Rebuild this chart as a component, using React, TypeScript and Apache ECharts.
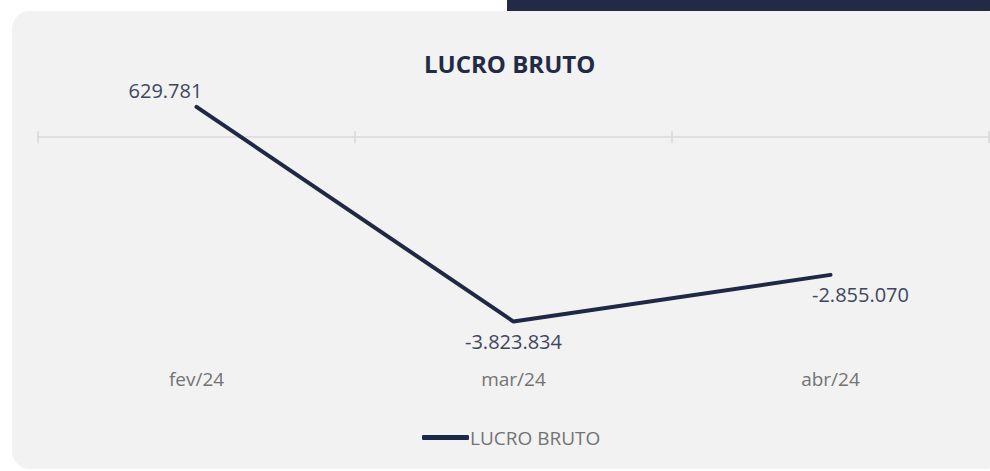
import React, { useEffect, useRef } from "react";
import * as echarts from "echarts";

const categories = ["fev/24", "mar/24", "abr/24"];
const lucroBruto = [629781, -3823834, -2855070];
const seriesName = "LUCRO BRUTO";

const fmt = (v: number) => {
  const s = Math.abs(Math.round(v)).toString().replace(/\B(?=(\d{3})+(?!\d))/g, ".");
  return (v < 0 ? "-" : "") + s;
};

const labelPos = [
  { position: "top", offset: [-31, 0], distance: 6 },
  { position: "bottom", offset: [0, 0], distance: 10 },
  { position: "bottom", offset: [30, 0], distance: 10 },
];

export default function App() {
  const ref = useRef<HTMLDivElement>(null);
  useEffect(() => {
    if (!ref.current) return;
    const chart = echarts.init(ref.current, undefined, { renderer: "svg" });
    const font = "'Open Sans', Lato, sans-serif";
    chart.setOption({
      animation: false,
      textStyle: { fontFamily: font },
      graphic: [
        {
          type: "rect",
          z: -10,
          shape: { x: 12, y: 11, width: 992, height: 458, r: 18 },
          style: { fill: "#f2f2f2" },
        },
        {
          type: "rect",
          z: -9,
          shape: { x: 507, y: 0, width: 483, height: 11 },
          style: { fill: "#222a45" },
        },
      ],
      title: {
        text: "LUCRO BRUTO",
        left: 419,
        top: 46,
        textStyle: { fontFamily: font, fontSize: 24, fontWeight: "bold", color: "#222a45" },
      },
      legend: {
        top: 423,
        left: 417,
        itemWidth: 47,
        itemHeight: 5,
        itemGap: 0,
        data: [{ name: seriesName, icon: "roundRect" }],
        itemStyle: { color: "#1f2845" },
        textStyle: { fontFamily: font, fontSize: 19, color: "#737373", padding: [0, 0, 0, -4] },
      },
      grid: { left: 38, right: 1, top: 89, bottom: 112 },
      xAxis: [
        {
          type: "category",
          data: categories,
          position: "bottom",
          axisLine: { show: false, onZero: false },
          axisTick: { show: false },
          axisLabel: { margin: 10, fontSize: 19, color: "#737373", fontFamily: font },
        },
        {
          type: "category",
          data: categories,
          position: "bottom",
          axisLine: { show: true, onZero: true, onZeroAxisIndex: 0, lineStyle: { color: "#d9d9d9", width: 1.5 } },
          axisTick: { show: true, inside: true, length: 6, lineStyle: { color: "#d9d9d9", width: 1.5 } },
          axisLabel: { show: false },
        },
        {
          type: "category",
          data: categories,
          position: "bottom",
          axisLine: { show: false, onZero: true, onZeroAxisIndex: 1 },
          axisTick: { show: true, inside: false, length: 6, lineStyle: { color: "#d9d9d9", width: 1.5 } },
          axisLabel: { show: false },
        },
      ],
      yAxis: [
        { type: "value", min: -4600000, max: 1000000, show: false, splitLine: { show: false } },
        { type: "value", min: -4600000, max: 1000000, show: false, splitLine: { show: false } },
      ],
      series: [
        {
          name: seriesName,
          type: "line",
          xAxisIndex: 0,
          yAxisIndex: 0,
          symbol: "circle",
          symbolSize: 0,
          showSymbol: true,
          itemStyle: { color: "#1f2845" },
          lineStyle: { color: "#1f2845", width: 4, cap: "round" },
          data: lucroBruto.map((v, i) => ({
            value: v,
            label: {
              show: true,
              position: labelPos[i].position,
              offset: labelPos[i].offset,
              distance: labelPos[i].distance,
              formatter: () => fmt(v),
              fontSize: 20,
              color: "#3e4761",
              fontFamily: font,
            },
          })),
        },
      ],
    });
    return () => chart.dispose();
  }, []);
  return (
    <div
      ref={ref}
      style={{ position: "fixed", left: 0, top: 0, width: 990, height: 471, background: "#ffffff" }}
    />
  );
}
